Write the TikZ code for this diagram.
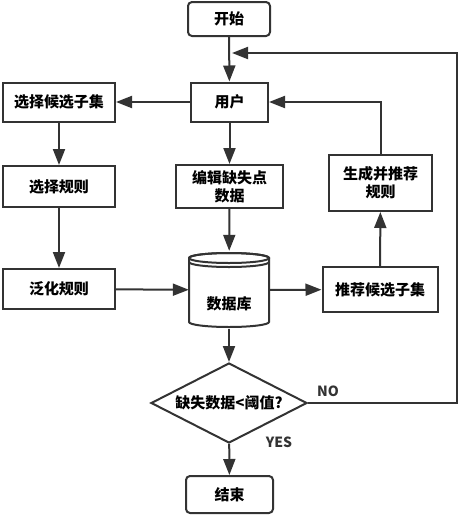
\documentclass[tikz,border=0pt]{standalone}
\usepackage{fontspec}
\setmainfont{Noto Sans CJK SC}
\usepackage{tikz}
\usetikzlibrary{arrows.meta,shapes.geometric}

\begin{document}
\begin{tikzpicture}[
    x=1pt, y=-1pt,
    procbox/.style={
        draw=black!80,
        fill=white,
        line width=2pt,
        align=center,
        font=\fontsize{15}{18}\selectfont\bfseries,
        inner sep=2pt,
    },
    termbox/.style={
        procbox,
        rounded corners=4pt,
    },
    decision/.style={
        procbox,
        diamond,
        aspect=2,
        inner sep=0pt,
        minimum width=156pt,
        minimum height=80pt,
    },
    flowarrow/.style={
        -{Triangle[length=16pt,width=12pt]},
        line width=2pt,
        color=black!80,
    },
    flowlabel/.style={
        font=\fontsize{14}{16}\selectfont\bfseries,
        text=black!80,
    },
    dbline/.style={
        line width=2pt,
        color=black!80,
    },
]
\useasboundingbox (0,0) rectangle (463,515);

\node[termbox,minimum width=82pt,minimum height=34pt] (start) at (229,19) {开始};
\node[procbox,minimum width=77pt,minimum height=39pt] (user) at (229.5,102) {用户};
\node[procbox,minimum width=112pt,minimum height=39pt] (pickset) at (59,102) {选择候选子集};
\node[procbox,minimum width=112pt,minimum height=41pt] (pickrule) at (59,186.5) {选择规则};
\node[procbox,minimum width=112pt,minimum height=40pt] (genrule) at (59,289) {泛化规则};
\node[procbox,minimum width=107pt,minimum height=43pt] (edit) at (229.5,186.5) {编辑缺失点\\数据};
\node[procbox,minimum width=103pt,minimum height=56pt] (makerule) at (380.5,183) {生成并推荐\\规则};
\node[procbox,minimum width=115pt,minimum height=45pt] (recset) at (380,289.5) {推荐候选子集};

% database cylinder
\draw[dbline,fill=white]
    (189,258) -- (189,322) arc[start angle=180,end angle=0,x radius=40,y radius=5]
    -- (269,258) arc[start angle=0,end angle=-180,x radius=40,y radius=5] -- cycle;
\draw[dbline]
    (189,258) arc[start angle=180,end angle=-180,x radius=40,y radius=5];
\draw[dbline]
    (189,262) arc[start angle=180,end angle=0,x radius=40,y radius=5];
\node[minimum width=80pt,minimum height=78pt,inner sep=0pt] (db) at (229,290) {};
\node[font=\fontsize{15}{18}\selectfont\bfseries] (dblabel) at (229,304) {数据库};

\node[decision] (check) at (229,403) {缺失数据<阈值?};
\node[termbox,minimum width=87pt,minimum height=37pt] (stop) at (229.5,494.5) {结束};

\coordinate (loopcorner) at (457,403);
\coordinate (looptop) at (457,53);
\coordinate (loopend) at (232,53);

\draw[flowarrow] (start) -- (user);
\draw[flowarrow] (user) -- (pickset);
\draw[flowarrow] (pickset) -- (pickrule);
\draw[flowarrow] (pickrule) -- (genrule);
\draw[flowarrow] (user) -- (edit);
\draw[flowarrow] (edit) -- (db);
\draw[flowarrow] (genrule) -- (db);
\draw[flowarrow] (db) -- (recset);
\draw[flowarrow] (recset) -- (makerule);
\draw[flowarrow] (makerule.north) |- (user.east);
\draw[flowarrow] (db) -- (check);
\draw[flowarrow] (check) -- (stop);
\draw[flowarrow] (check.east) -- (loopcorner) -- (looptop) -- (loopend);

\node[flowlabel] (nolabel) at (328,391) {NO};
\node[flowlabel] (yeslabel) at (279,442) {YES};
\end{tikzpicture}
\end{document}
